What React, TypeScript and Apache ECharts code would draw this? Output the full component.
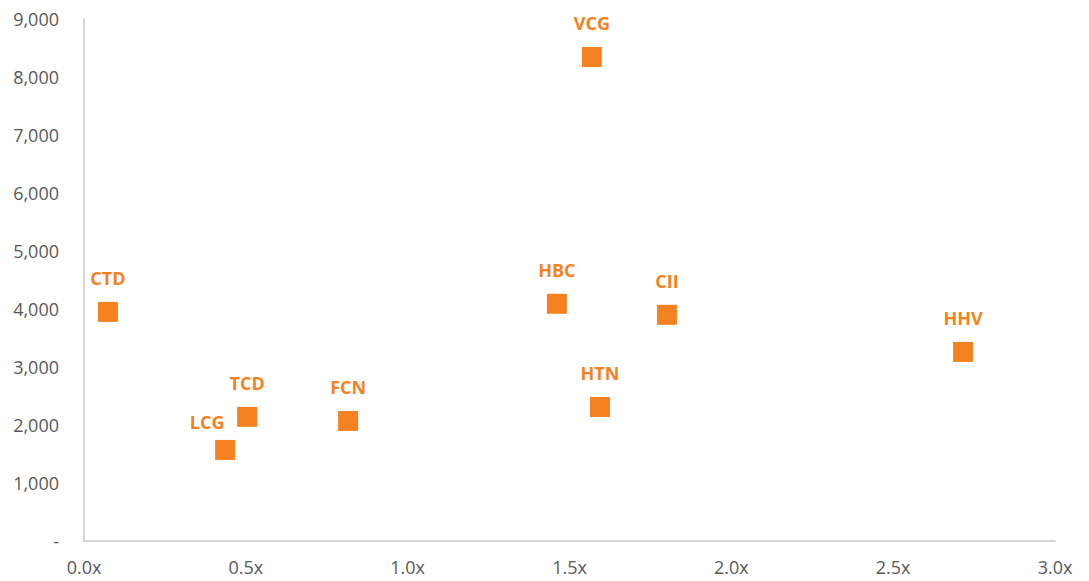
import React, { useEffect, useRef } from "react";
import * as echarts from "echarts";

const names = ["CTD", "LCG", "TCD", "FCN", "HBC", "VCG", "HTN", "CII", "HHV"];
const xValues = [0.074, 0.436, 0.504, 0.816, 1.461, 1.569, 1.594, 1.801, 2.716];
const yValues = [3950, 1570, 2140, 2070, 4090, 8345, 2310, 3900, 3260];
const labelOffsets: Record<string, number[]> = { LCG: [-18, 6] };

export default function App() {
  const ref = useRef<HTMLDivElement>(null);
  useEffect(() => {
    const chart = echarts.init(ref.current!, null, { renderer: "svg" });
    const orange = "#F58220";
    const data = names.map((n, i) => ({
      name: n,
      value: [xValues[i], yValues[i]],
      label: labelOffsets[n] ? { offset: labelOffsets[n] } : undefined,
    }));
    chart.setOption({
      animation: false,
      textStyle: { fontFamily: "Open Sans" },
      grid: { left: 84, right: 34, top: 19, bottom: 40 },
      xAxis: {
        type: "value",
        min: 0,
        max: 3,
        interval: 0.5,
        splitLine: { show: false },
        axisLine: { lineStyle: { color: "#C8C8C8", width: 1.5 } },
        axisTick: { show: false },
        axisLabel: {
          color: "#595959",
          fontSize: 18,
          margin: 17,
          formatter: (v: number) => v.toFixed(1) + "x",
        },
      },
      yAxis: {
        type: "value",
        min: 0,
        max: 9000,
        interval: 1000,
        splitLine: { show: false },
        axisLine: { show: true, lineStyle: { color: "#C8C8C8", width: 1.5 } },
        axisTick: { show: false },
        axisLabel: {
          color: "#595959",
          fontSize: 18,
          margin: 25,
          formatter: (v: number) => (v === 0 ? "-" : v.toLocaleString("en-US")),
        },
      },
      series: [
        {
          type: "scatter",
          symbol: "rect",
          symbolSize: 20,
          itemStyle: { color: orange, opacity: 1 },
          label: {
            show: true,
            position: "top",
            distance: 15,
            formatter: "{b}",
            color: orange,
            fontWeight: "bold",
            fontSize: 18,
          },
          data,
        },
      ],
    });
    return () => chart.dispose();
  }, []);
  return <div ref={ref} style={{ width: 1089, height: 581, position: "absolute", left: 0, top: 0 }} />;
}
